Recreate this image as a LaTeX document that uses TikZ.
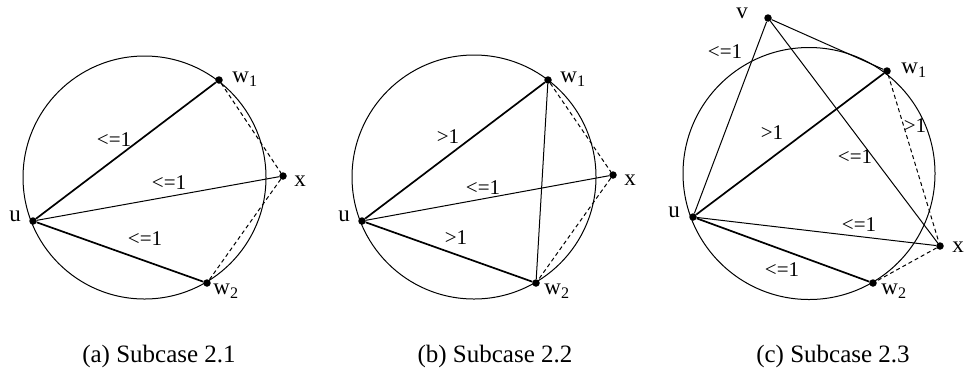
\documentclass[tikz,border=0pt]{standalone}
\usepackage{fontspec}
\setmainfont{Liberation Serif}
\usepackage{tikz}

\tikzset{
  pt/.style={circle, fill, inner sep=0pt, minimum size=7.5pt},
  lbl/.style={font=\fontsize{23}{26}\selectfont, inner sep=0pt},
  wt/.style={font=\fontsize{21}{24}\selectfont, inner sep=0pt},
  subcap/.style={font=\fontsize{25}{28}\selectfont, inner sep=0pt},
  heavy/.style={line width=1.7pt},
  light/.style={line width=1pt},
  dsh/.style={dashed, line width=1pt, dash pattern=on 4pt off 3pt}
}

\begin{document}
\begin{tikzpicture}[x=1pt, y=-1pt]
            \useasboundingbox (0,0) rectangle (965,384);

            % Hình (a): đường tròn và các điểm
            \draw[light] (144.5,177.5) circle (121.5pt);
            \node[pt] (ua) at (33,221) {};
            \node[pt] (w1a) at (219,80) {};
            \node[pt] (w2a) at (207,283) {};
            \node[pt] (xa) at (283,176) {};

            % Các cạnh của hình (a)
            \draw[heavy] (ua) -- (w1a);
            \draw[heavy] (ua) -- (w2a);
            \draw[light] (ua) -- (xa);
            \draw[dsh] (w1a) -- (xa) -- (w2a);

            % Nhãn hình (a)
            \node[lbl] (lua) at (15,216) {u};
            \node[lbl] (lw1a) at (245,79) {w\textsubscript{1}};
            \node[lbl] (lw2a) at (226,291) {w\textsubscript{2}};
            \node[lbl] (lxa) at (300,181) {x};
            \node[wt] (ea1) at (114,140) {<=1};
            \node[wt] (ea2) at (169,183) {<=1};
            \node[wt] (ea3) at (145,239) {<=1};
            \node[subcap] (capa) at (159,356) {(a) Subcase 2.1};

            % Hình (b): đường tròn và các điểm
            \draw[light] (474,177) circle (122pt);
            \node[pt] (ub) at (362,221) {};
            \node[pt] (w1b) at (548,80) {};
            \node[pt] (w2b) at (536,283) {};
            \node[pt] (xb) at (613,175) {};

            % Các cạnh của hình (b)
            \draw[heavy] (ub) -- (w1b);
            \draw[heavy] (ub) -- (w2b);
            \draw[light] (ub) -- (xb);
            \draw[light] (w1b) -- (w2b);
            \draw[dsh] (w1b) -- (xb) -- (w2b);

            % Nhãn hình (b)
            \node[lbl] (lub) at (344,216) {u};
            \node[lbl] (lw1b) at (573,79) {w\textsubscript{1}};
            \node[lbl] (lw2b) at (557,291) {w\textsubscript{2}};
            \node[lbl] (lxb) at (630,180) {x};
            \node[wt] (eb1) at (448,137) {>1};
            \node[wt] (eb2) at (483,188) {<=1};
            \node[wt] (eb3) at (456,238) {>1};
            \node[subcap] (capb) at (495,356) {(b) Subcase 2.2};

            % Hình (c): đường tròn và các điểm
            \draw[light] (809,173.5) circle (126pt);
            \node[pt] (uc) at (693,217) {};
            \node[pt] (vc) at (768,18) {};
            \node[pt] (w1c) at (887,71) {};
            \node[pt] (w2c) at (873,283) {};
            \node[pt] (xc) at (940,246) {};

            % Các cạnh của hình (c)
            \draw[light] (uc) -- (vc) -- (w1c);
            \draw[light] (vc) -- (xc);
            \draw[heavy] (uc) -- (w1c);
            \draw[heavy] (uc) -- (w2c);
            \draw[light] (uc) -- (xc);
            \draw[dsh] (w1c) -- (xc) -- (w2c);

            % Nhãn hình (c)
            \node[lbl] (luc) at (674,212) {u};
            \node[lbl] (lvc) at (742,13) {v};
            \node[lbl] (lw1c) at (914,70) {w\textsubscript{1}};
            \node[lbl] (lw2c) at (894,291) {w\textsubscript{2}};
            \node[lbl, anchor=east] (lxc) at (964,247) {x};
            \node[wt] (ec1) at (725,52) {<=1};
            \node[wt] (ec2) at (772,133) {>1};
            \node[wt] (ec3) at (855,157) {<=1};
            \node[wt] (ec4) at (915,126) {>1};
            \node[wt] (ec5) at (859,225) {<=1};
            \node[wt] (ec6) at (782,270) {<=1};
            \node[subcap] (capc) at (833,356) {(c) Subcase 2.3};
        \end{tikzpicture}
\end{document}
